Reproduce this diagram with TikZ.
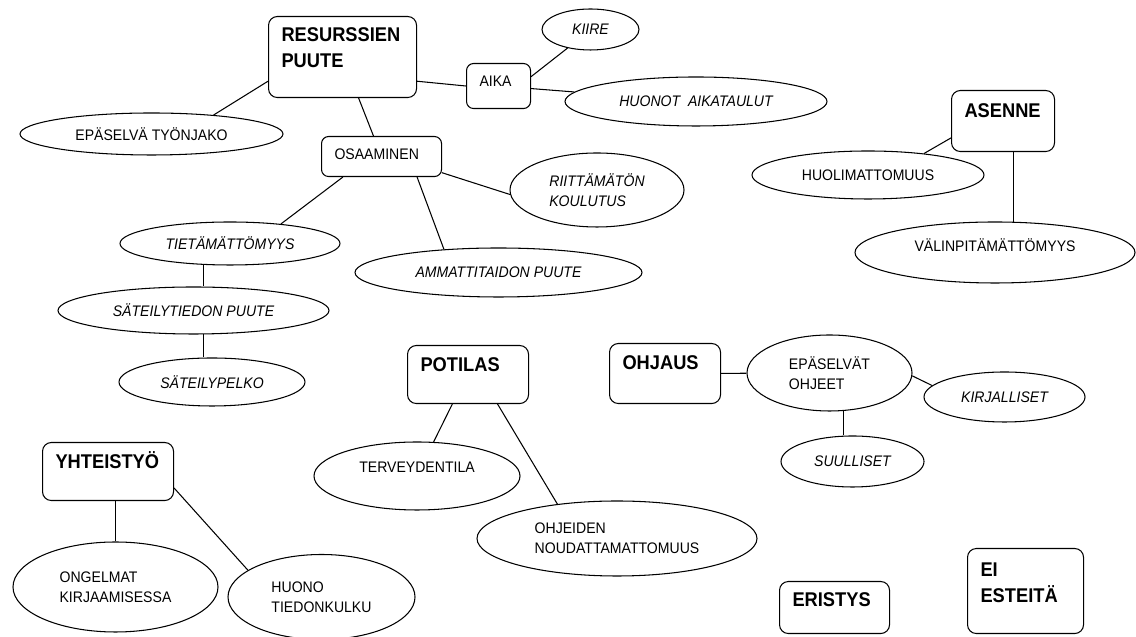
\documentclass[tikz,border=0pt]{standalone}
\usepackage{fontspec}
\setmainfont{Liberation Sans}[FakeStretch=0.92]
\usetikzlibrary{shapes.geometric}

\begin{document}
\begin{tikzpicture}[
    line width=0.6pt,
    mainBox/.style={draw, rounded corners=5pt, anchor=north west, inner xsep=0.26cm, inner ysep=0pt, align=left, font=\bfseries\fontsize{11.3}{15}\selectfont},
    subBox/.style={mainBox, rounded corners=4pt, font=\fontsize{8.7}{11.4}\selectfont},
    causeOval/.style={draw, ellipse, inner sep=0pt, align=left, font=\fontsize{8.7}{11.4}\selectfont},
    detailOval/.style={causeOval, font=\itshape\fontsize{8.7}{11.4}\selectfont},
]
\useasboundingbox (0,0) rectangle (22.72,12.74);

% Main causes
\node[mainBox, text width=2.44cm, text height=0.50cm, text depth=1.12cm] (res) at (5.36,12.42) {RESURSSIEN\\PUUTE};
\node[subBox, text width=0.76cm, text height=0.46cm, text depth=0.44cm] (aika) at (9.32,11.48) {AIKA};
\node[subBox, text width=1.88cm, text height=0.46cm, text depth=0.34cm] (osa) at (6.42,10.02) {OSAAMINEN};
\node[mainBox, text width=1.54cm, text height=0.54cm, text depth=0.68cm] (asenne) at (19.02,10.94) {ASENNE};
\node[mainBox, text width=1.90cm, text height=0.52cm, text depth=0.64cm] (potilas) at (8.14,5.84) {POTILAS};
\node[mainBox, text width=1.70cm, text height=0.52cm, text depth=0.68cm] (ohjaus) at (12.18,5.88) {OHJAUS};
\node[mainBox, text width=2.10cm, text height=0.52cm, text depth=0.64cm] (yht) at (0.84,3.90) {YHTEISTYÖ};
\node[mainBox, text width=1.68cm, text height=0.50cm, text depth=0.54cm] (eristys) at (15.58,1.12) {ERISTYS};
\node[mainBox, text width=1.80cm, text height=0.56cm, text depth=1.14cm] (esteet) at (19.34,1.78) {EI\\ESTEITÄ};

% Sub causes
\node[causeOval, minimum width=5.26cm, minimum height=0.84cm] (tyonjako) at (3.03,10.06) {EPÄSELVÄ TYÖNJAKO};
\node[detailOval, minimum width=1.94cm, minimum height=0.82cm] (kiire) at (11.81,12.15) {KIIRE};
\node[detailOval, minimum width=5.24cm, minimum height=0.98cm] (aikataulut) at (13.92,10.71) {HUONOT\ \ AIKATAULUT};
\node[detailOval, minimum width=3.48cm, minimum height=1.48cm] (koulutus) at (11.94,8.94) {RIITTÄMÄTÖN\\KOULUTUS};
\node[detailOval, minimum width=5.74cm, minimum height=0.98cm] (ammatti) at (9.97,7.29) {AMMATTITAIDON PUUTE};
\node[detailOval, minimum width=4.40cm, minimum height=0.86cm] (tieto) at (4.60,7.87) {TIETÄMÄTTÖMYYS};
\node[detailOval, minimum width=5.42cm, minimum height=0.94cm] (sateily) at (3.87,6.53) {SÄTEILYTIEDON PUUTE};
\node[detailOval, minimum width=3.72cm, minimum height=0.96cm] (pelko) at (4.24,5.10) {SÄTEILYPELKO};
\node[causeOval, minimum width=4.64cm, minimum height=0.96cm] (huolim) at (17.36,9.24) {HUOLIMATTOMUUS};
\node[causeOval, minimum width=5.60cm, minimum height=1.22cm, text depth=0.28cm] (valinp) at (19.90,7.69) {VÄLINPITÄMÄTTÖMYYS};
\node[causeOval, minimum width=4.12cm, minimum height=1.36cm, text depth=0.36cm] (terveys) at (8.34,3.22) {TERVEYDENTILA};
\node[causeOval, minimum width=5.60cm, minimum height=1.50cm] (noudatus) at (12.34,1.97) {OHJEIDEN\\NOUDATTAMATTOMUUS};
\node[causeOval, minimum width=3.30cm, minimum height=1.52cm] (ohjeet) at (16.59,5.28) {EPÄSELVÄT\\OHJEET};
\node[detailOval, minimum width=3.22cm, minimum height=1.00cm] (kirj) at (20.09,4.80) {KIRJALLISET};
\node[detailOval, minimum width=2.86cm, minimum height=1.02cm] (suul) at (17.05,3.51) {SUULLISET};
\node[causeOval, minimum width=4.10cm, minimum height=1.80cm] (kirjaus) at (2.31,1.00) {ONGELMAT\\KIRJAAMISESSA};
\node[causeOval, minimum width=3.74cm, minimum height=1.70cm] (tiedonkulku) at (6.43,0.80) {HUONO\\TIEDONKULKU};

% Links
\draw (res.198) -- (tyonjako.17);
\draw (res) -- (osa);
\draw (res.-18) -- (aika.west);
\draw (aika.16) -- (kiire.219);
\draw (aika) -- (aikataulut);
\draw (osa.-15) -- (koulutus.183);
\draw (osa.-152) -- (tieto.21);
\draw (osa.-30) -- (ammatti.157);
\draw (tieto.-141) -- (tieto.-141 |- sateily.north);
\draw (sateily.-67) -- (sateily.-67 |- pelko.north);
\draw (asenne.198) -- (huolim.21);
\draw (valinp.59) -- (valinp.59 |- asenne.south);
\draw (potilas.-118) -- (terveys.64);
\draw (potilas.-45) -- (noudatus.150);
\draw (ohjaus) -- (ohjeet);
\draw (ohjeet.-2) -- (kirj.171);
\draw (ohjeet.-70) -- (ohjeet.-70 |- suul.north);
\draw (kirjaus.north) -- (kirjaus.north |- yht.south);
\draw (yht.-14) -- (tiedonkulku.160);
\end{tikzpicture}
\end{document}
